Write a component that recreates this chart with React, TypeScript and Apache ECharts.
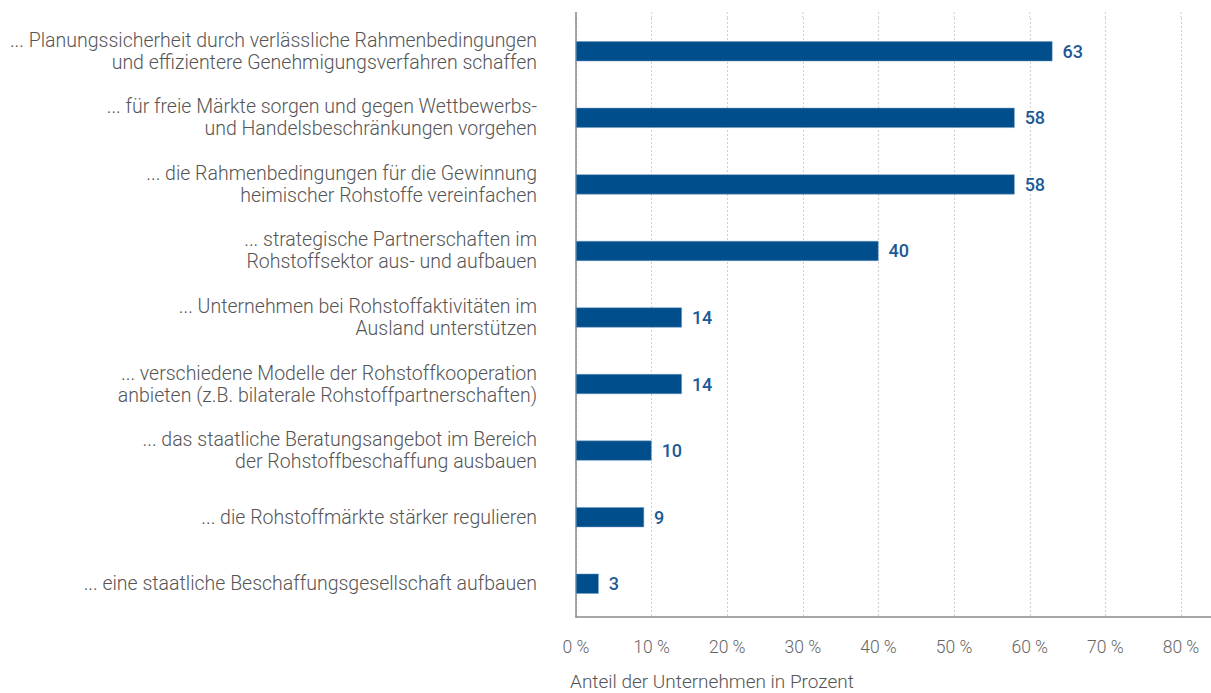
import React, { useEffect, useRef } from "react";
import * as echarts from "echarts";

const categories: string[] = [
  "... Planungssicherheit durch verlässliche Rahmenbedingungen\nund effizientere Genehmigungsverfahren schaffen",
  "... für freie Märkte sorgen und gegen Wettbewerbs-\nund Handelsbeschränkungen vorgehen",
  "... die Rahmenbedingungen für die Gewinnung\nheimischer Rohstoffe vereinfachen",
  "... strategische Partnerschaften im\nRohstoffsektor aus- und aufbauen",
  "... Unternehmen bei Rohstoffaktivitäten im\nAusland unterstützen",
  "... verschiedene Modelle der Rohstoffkooperation\nanbieten (z.B. bilaterale Rohstoffpartnerschaften)",
  "... das staatliche Beratungsangebot im Bereich\nder Rohstoffbeschaffung ausbauen",
  "... die Rohstoffmärkte stärker regulieren",
  "... eine staatliche Beschaffungsgesellschaft aufbauen",
];
const values: number[] = [63, 58, 58, 40, 14, 14, 10, 9, 3];
const xTicks: number[] = [0, 10, 20, 30, 40, 50, 60, 70, 80];
const axisTitle = "Anteil der Unternehmen in Prozent";

const FONT = "Roboto";

export default function App() {
  const ref = useRef<HTMLDivElement>(null);
  useEffect(() => {
    if (!ref.current) return;
    const chart = echarts.init(ref.current, undefined, { renderer: "svg" });
    const gridTop = 18;
    const gridBottom = 76;
    const gridLeft = 576;
    const gridRight = 30;
    chart.setOption({
      animation: false,
      grid: { left: gridLeft, right: gridRight, top: gridTop, bottom: gridBottom, containLabel: false },
      xAxis: {
        type: "value",
        min: xTicks[0],
        max: xTicks[xTicks.length - 1],
        interval: 10,
        axisLine: { show: true, lineStyle: { color: "#8a8a8a", width: 1.5 } },
        axisTick: { show: false },
        splitLine: { show: true, lineStyle: { color: "#cfcfcf", type: [2, 2], width: 1 } },
        axisLabel: {
          formatter: (v: number) => v + " %",
          color: "#666",
          fontFamily: FONT,
          fontWeight: 300,
          fontSize: 17.5,
          margin: 21,
        },
      },
      yAxis: {
        type: "category",
        inverse: true,
        data: categories,
        axisLine: { show: true, lineStyle: { color: "#8a8a8a", width: 1.5 } },
        axisTick: { show: false },
        axisLabel: {
          color: "#555",
          fontFamily: FONT,
          fontWeight: 300,
          fontSize: 19.5,
          lineHeight: 22,
          margin: 39,
          align: "right",
        },
      },
      series: [
        {
          type: "bar",
          data: values,
          barWidth: 20,
          itemStyle: { color: "#004f8c", borderColor: "#6f98c0", borderWidth: 0.5 },
          label: {
            show: true,
            position: "right",
            distance: 10,
            color: "#1b5a97",
            fontFamily: FONT,
            fontWeight: 500,
            fontSize: 18,
          },
        },
      ],
    });
    const ext: any[] = [];
    const y0 = gridTop;
    xTicks.forEach((t, i) => {
      const px = chart.convertToPixel({ gridIndex: 0 }, [t, 0]) as number[];
      const x = px[0];
      ext.push({
        type: "line",
        shape: { x1: x, y1: 12, x2: x, y2: y0 },
        style: i === 0 ? { stroke: "#8a8a8a", lineWidth: 1.5 } : { stroke: "#cfcfcf", lineWidth: 1, lineDash: [2, 2] },
        silent: true,
      });
    });
    const w = chart.getWidth();
    const h = chart.getHeight();
    const endPx = chart.convertToPixel({ gridIndex: 0 }, [xTicks[xTicks.length - 1], 0]) as number[];
    ext.push({
      type: "line",
      shape: { x1: endPx[0], y1: h - gridBottom, x2: w, y2: h - gridBottom },
      style: { stroke: "#8a8a8a", lineWidth: 1.5 },
      silent: true,
    });
    ext.push({
      type: "text",
      left: 570,
      top: 672,
      style: { text: axisTitle, fill: "#555", font: `300 19px ${FONT}` },
    });
    chart.setOption({ graphic: ext });
    return () => chart.dispose();
  }, []);
  return <div ref={ref} style={{ width: 1211, height: 693, position: "absolute", left: 0, top: 0 }} />;
}
